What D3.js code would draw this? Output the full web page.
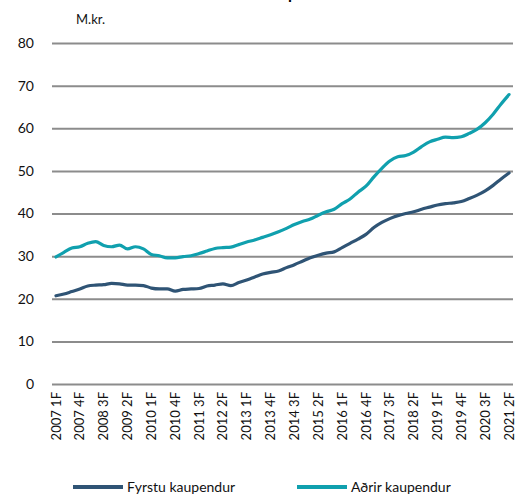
<!DOCTYPE html>
<html>
<head>
<meta charset="utf-8">
<script src="https://cdn.jsdelivr.net/npm/d3@7"></script>
<style>
  body { margin: 0; background: #fff; }
  svg { display: block; font-family: Lato, "Open Sans", sans-serif; }
</style>
</head>
<body>
<svg id="chart" width="528" height="504"></svg>
<script>
// quarters 2007 1F .. 2021 2F
const years = d3.range(2007, 2022);
const quarters = [];
years.forEach(function (y) {
    for (let q = 1; q <= 4; q++) {
        if (y === 2021 && q > 2) break;
        quarters.push(y + ' ' + q + 'F');
    }
});

const fyrstu = [
    20.7, 21.1, 21.7, 22.3, 23.0, 23.2, 23.3, 23.6, 23.5, 23.2,
    23.2, 23.1, 22.5, 22.3, 22.3, 21.8, 22.2, 22.3, 22.4, 23.0,
    23.2, 23.5, 23.1, 23.8, 24.4, 25.1, 25.8, 26.2, 26.5, 27.3,
    28.0, 28.8, 29.6, 30.2, 30.7, 31.0, 32.0, 33.0, 34.0, 35.1,
    36.7, 37.9, 38.8, 39.5, 40.0, 40.4, 41.0, 41.5, 42.0, 42.3,
    42.5, 42.8, 43.5, 44.3, 45.3, 46.6, 48.1, 49.5
];
const adrir = [
    29.8, 30.9, 31.9, 32.2, 33.0, 33.4, 32.5, 32.2, 32.6, 31.7,
    32.2, 31.7, 30.4, 30.1, 29.6, 29.6, 29.9, 30.1, 30.6, 31.2,
    31.8, 32.0, 32.1, 32.7, 33.3, 33.8, 34.4, 35.0, 35.7, 36.5,
    37.4, 38.1, 38.7, 39.6, 40.4, 41.0, 42.3, 43.4, 45.0, 46.4,
    48.6, 50.6, 52.3, 53.3, 53.6, 54.4, 55.7, 56.8, 57.4, 57.9,
    57.8, 58.0, 58.8, 59.8, 61.3, 63.3, 65.7, 67.9
];
const seriesNames = ['Fyrstu kaupendur', 'Aðrir kaupendur'];
const seriesColors = ['#2f5475', '#10a0ae'];
const yTicks = [0, 10, 20, 30, 40, 50, 60, 70, 80];

const svg = d3.select('#chart');
const margin = { left: 52, right: 15, top: 43, bottom: 120 };
const width = 528, height = 504;

const x = d3.scaleBand()
    .domain(quarters)
    .range([margin.left, width - margin.right]);
const y = d3.scaleLinear()
    .domain([0, 80])
    .range([height - margin.bottom, margin.top]);

// title (mostly cut off above the frame, as in the original)
svg.append('text')
    .attr('x', 294).attr('y', -1)
    .attr('text-anchor', 'middle')
    .attr('font-weight', 'bold')
    .attr('font-size', 16)
    .text('Kaupverð');

svg.append('text')
    .attr('x', 76).attr('y', 24)
    .attr('font-size', 13)
    .attr('fill', '#111')
    .text('M.kr.');

// gridlines + y labels
const yAxis = svg.append('g')
    .call(d3.axisLeft(y).tickValues(yTicks)
        .tickSize(-(width - margin.left - margin.right))
        .tickPadding(18))
    .attr('transform', 'translate(' + margin.left + ',0)');
yAxis.select('.domain').remove();
yAxis.selectAll('.tick line').attr('stroke', '#8c8c8c').attr('stroke-width', 2);
yAxis.selectAll('.tick text').attr('font-size', 14).attr('fill', '#111')
    .style('font-family', 'Lato, "Open Sans", sans-serif');

// x labels every 3rd quarter
const xAxis = svg.append('g')
    .attr('transform', 'translate(0,' + (height - margin.bottom) + ')')
    .call(d3.axisBottom(x)
        .tickValues(quarters.filter((d, i) => i % 3 === 0))
        .tickSize(0));
xAxis.select('.domain').remove();
xAxis.selectAll('.tick text')
    .attr('font-size', 13)
    .attr('fill', '#111')
    .style('font-family', 'Lato, "Open Sans", sans-serif')
    .attr('text-anchor', 'end')
    .attr('transform', 'rotate(-90)')
    .attr('x', -8)
    .attr('y', 0)
    .attr('dy', '0.35em');

const line = d3.line()
    .x((d, i) => x(quarters[i]) + x.bandwidth() / 2)
    .y((d) => y(d))
    .curve(d3.curveMonotoneX);

[fyrstu, adrir].forEach(function (s, k) {
    svg.append('path')
        .datum(s)
        .attr('fill', 'none')
        .attr('stroke', seriesColors[k])
        .attr('stroke-width', 3.2)
        .attr('stroke-linejoin', 'round')
        .attr('stroke-linecap', 'round')
        .attr('d', line);
});

// legend
const legendX = [73, 297];
seriesNames.forEach(function (name, k) {
    const g = svg.append('g').attr('transform', 'translate(' + legendX[k] + ',487)');
    g.append('line')
        .attr('x1', 0).attr('x2', 50)
        .attr('stroke', seriesColors[k]).attr('stroke-width', 4);
    g.append('text')
        .attr('x', 54).attr('y', 0).attr('dy', '0.35em')
        .attr('font-size', 14).attr('fill', '#111')
        .text(name);
});
</script>
</body>
</html>
